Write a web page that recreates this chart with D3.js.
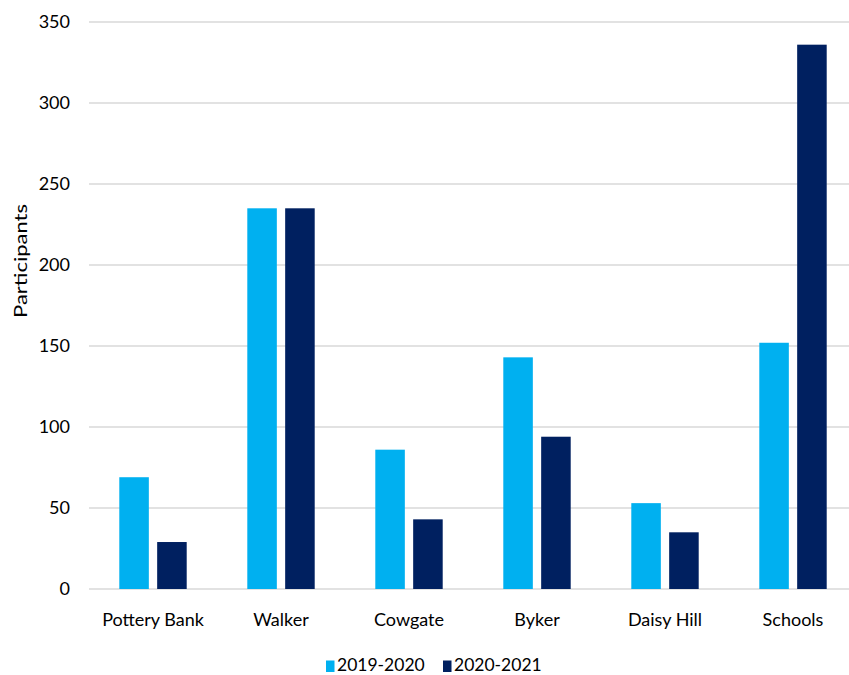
<!DOCTYPE html>
<html>
<head>
<meta charset="utf-8">
<script src="https://cdn.jsdelivr.net/npm/d3@7"></script>
<style>
  body { margin: 0; background: #fff; }
  svg { display: block; font-family: Lato, "Open Sans", sans-serif; }
</style>
</head>
<body>
<svg id="chart" width="849" height="675"></svg>
<script>
const categories = ["Pottery Bank", "Walker", "Cowgate", "Byker", "Daisy Hill", "Schools"];
const seriesNames = ["2019-2020", "2020-2021"];
const values2019 = [69, 235, 86, 143, 53, 152];
const values2020 = [29, 235, 43, 94, 35, 336];
const yTicks = [0, 50, 100, 150, 200, 250, 300, 350];
const colors = ["#00b0f0", "#002060"];

(function () {
const svg = d3.select("#chart");
const mLeft = 89, mRight = 857, mTop = 22, mBottom = 589;

const x = d3.scaleBand().domain(categories).range([mLeft, mRight]).paddingInner(0).paddingOuter(0);
const xs = d3.scaleBand().domain(seriesNames).range([0, x.bandwidth()]).paddingInner(0.22).paddingOuter(0.8);
const y = d3.scaleLinear().domain([0, 350]).range([mBottom, mTop]);

// gridlines
svg.append("g").selectAll("line").data(yTicks).join("line")
  .attr("x1", mLeft).attr("x2", 849)
  .attr("y1", d => y(d)).attr("y2", d => y(d))
  .attr("stroke", "#d9d9d9").attr("stroke-width", 1.5);

// y axis labels
const yAxis = d3.axisLeft(y).tickValues(yTicks).tickSize(0).tickPadding(19);
const gy = svg.append("g").attr("transform", `translate(${mLeft},0)`).call(yAxis);
gy.select(".domain").remove();
gy.selectAll("text").attr("font-size", 18).attr("fill", "#000").attr("font-family", "Lato, sans-serif");

// x axis labels
const xAxis = d3.axisBottom(x).tickSize(0).tickPadding(0);
const gx = svg.append("g").attr("transform", `translate(0,${mBottom})`).call(xAxis);
gx.select(".domain").remove();
gx.selectAll("text").attr("font-size", 18).attr("fill", "#000").attr("font-family", "Lato, sans-serif")
  .attr("y", 37).attr("dy", null);

// bars
const data = categories.map((c, i) => ({ cat: c, vals: [values2019[i], values2020[i]] }));
const groups = svg.append("g").selectAll("g").data(data).join("g")
  .attr("transform", d => `translate(${x(d.cat)},0)`);
groups.selectAll("rect").data(d => d.vals.map((v, j) => ({ s: seriesNames[j], v, j })))
  .join("rect")
  .attr("x", d => xs(d.s))
  .attr("width", xs.bandwidth())
  .attr("y", d => y(d.v))
  .attr("height", d => y(0) - y(d.v))
  .attr("fill", d => colors[d.j]);

// y axis title
svg.append("text")
  .attr("transform", "translate(21.5,261) scale(0.75,1) rotate(-90)")
  .attr("text-anchor", "middle")
  .attr("dy", "0.35em")
  .attr("font-size", 22)
  .attr("fill", "#000")
  .text("Participants");

// legend
const legendX = [326, 443];
const lg = svg.append("g").selectAll("g").data(seriesNames).join("g")
  .attr("transform", (d, i) => `translate(${legendX[i]},671)`);
lg.append("rect").attr("x", 0).attr("y", -10.5).attr("width", 8.5).attr("height", 11.5)
  .attr("fill", (d, i) => colors[i]);
lg.append("text").attr("x", 11).attr("y", 0)
  .attr("font-size", 17.5).attr("fill", "#000").text(d => d);
})();
</script>
</body>
</html>
